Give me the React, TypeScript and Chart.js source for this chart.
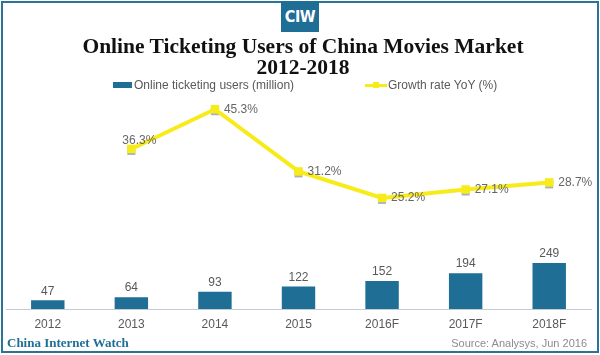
import React, { useEffect, useRef } from 'react';
import { Chart, registerables } from 'chart.js';

Chart.register(...registerables);

// ---- data ----
const categories = ['2012', '2013', '2014', '2015', '2016F', '2017F', '2018F'];
const users = [47, 64, 93, 122, 152, 194, 249];
const growth = [null, 36.3, 45.3, 31.2, 25.2, 27.1, 28.7];
const usersLabel = 'Online ticketing users (million)';
const growthLabel = 'Growth rate YoY (%)';
const titleLines = ['Online Ticketing Users of China Movies Market', '2012-2018'];
const sourceText = 'Source: Analysys, Jun 2016';
const brandText = 'China Internet Watch';
const logoText = 'CIW';

const BLUE = '#1F6E96';
const FRAME = '#2A7399';
const YELLOW = '#F8EB1A';
const SANS = '"Liberation Sans", Arial, sans-serif';
const SERIF = '"Liberation Serif", "Times New Roman", serif';

const valueLabels = {
  id: 'valueLabels',
  beforeDatasetDraw(chart: any, args: any) {
    const ds = chart.data.datasets[args.index];
    if (ds.type !== 'line') return;
    const ctx = chart.ctx;
    ctx.save();
    ctx.fillStyle = '#A8B2BB';
    args.meta.data.forEach((pt: any, i: number) => {
      if (ds.data[i] == null) return;
      ctx.fillRect(pt.x - 4, pt.y - 2, 8, 8);
    });
    ctx.restore();
  },
  afterDatasetsDraw(chart: any) {
    const ctx = chart.ctx;
    ctx.save();
    ctx.font = '12px ' + SANS;
    chart.data.datasets.forEach((ds: any, di: number) => {
      const meta = chart.getDatasetMeta(di);
      if (ds.type === 'bar') {
        ctx.fillStyle = '#595959';
        ctx.textAlign = 'center';
        ctx.textBaseline = 'bottom';
        meta.data.forEach((el: any, i: number) => {
          ctx.fillText(String(ds.data[i]), el.x, el.y - 3);
        });
      } else {
        let first = true;
        ctx.fillStyle = '#666666';
        ctx.textBaseline = 'middle';
        meta.data.forEach((el: any, i: number) => {
          const v = ds.data[i];
          if (v == null) return;
          const text = v.toFixed(1) + '%';
          if (first) {
            ctx.textAlign = 'center';
            ctx.fillText(text, el.x + 8, el.y - 8);
            first = false;
          } else {
            ctx.textAlign = 'left';
            ctx.fillText(text, el.x + 9, el.y);
          }
        });
      }
    });
    ctx.restore();
  },
};

export default function App() {
  const canvasRef = useRef<HTMLCanvasElement | null>(null);

  useEffect(() => {
    document.body.style.margin = '0';
    const canvas = canvasRef.current;
    if (!canvas) return;
    const chart = new Chart(canvas, {
      type: 'bar',
      data: {
        labels: categories,
        datasets: [
          {
            type: 'line',
            label: growthLabel,
            data: growth,
            yAxisID: 'y2',
            borderColor: YELLOW,
            backgroundColor: YELLOW,
            borderWidth: 4,
            pointStyle: 'rect',
            pointRadius: 6,
            pointBorderWidth: 0,
            pointBackgroundColor: YELLOW,
            tension: 0,
            order: 0,
          } as any,
          {
            type: 'bar',
            label: usersLabel,
            data: users,
            yAxisID: 'y',
            backgroundColor: BLUE,
            barPercentage: 0.4,
            categoryPercentage: 1,
            order: 1,
          } as any,
        ],
      },
      options: {
        responsive: false,
        maintainAspectRatio: false,
        animation: false,
        devicePixelRatio: 1,
        layout: { padding: { top: 100, left: 3, right: 9, bottom: 0 } },
        plugins: {
          legend: { display: false },
          tooltip: { enabled: false },
          title: { display: false },
        },
        scales: {
          x: {
            grid: { display: false, drawTicks: false },
            border: { display: true, color: '#C3CCD4', width: 1 },
            ticks: {
              color: '#595959',
              font: { family: SANS, size: 12 },
              padding: 8,
              maxRotation: 0,
              autoSkip: false,
            },
            afterFit: (s: any) => {
              s.height = 46;
            },
          },
          y: { display: false, min: 0, max: 1131 },
          y2: { display: false, min: 0, max: 47.4, position: 'right' },
        },
      } as any,
      plugins: [valueLabels as any],
    });
    return () => chart.destroy();
  }, []);

  return (
    <div style={{ position: 'relative', width: 600, height: 355, background: '#fff', overflow: 'hidden' }}>
      <canvas ref={canvasRef} width={600} height={355} style={{ display: 'block', position: 'absolute', left: 0, top: 0 }} />
      <div
        style={{
          position: 'absolute', left: 1, top: 1, width: 598, height: 352,
          border: `2px solid ${FRAME}`, boxSizing: 'border-box', pointerEvents: 'none',
        }}
      />
      <div
        style={{
          position: 'absolute', left: 281, top: 1, width: 38, height: 31, background: BLUE,
          color: '#fff', fontFamily: '"DejaVu Sans Condensed", "DejaVu Sans", sans-serif', fontWeight: 'bold',
          fontSize: 16, lineHeight: '31px', textAlign: 'center', letterSpacing: -0.5,
        }}
      >
        {logoText}
      </div>
      <div
        style={{
          position: 'absolute', left: 0, top: 36, width: 606, textAlign: 'center',
          fontFamily: SERIF, fontWeight: 'bold', fontSize: 21.5, lineHeight: '21px', color: '#111',
        }}
      >
        {titleLines.map((t) => (
          <div key={t}>{t}</div>
        ))}
      </div>
      {/* legend */}
      <div style={{ position: 'absolute', left: 113, top: 82, width: 19, height: 6, background: BLUE }} />
      <div
        style={{
          position: 'absolute', left: 134, top: 78, fontFamily: SANS, fontSize: 12,
          lineHeight: '14px', color: '#595959', whiteSpace: 'nowrap',
        }}
      >
        {usersLabel}
      </div>
      <div style={{ position: 'absolute', left: 365, top: 84, width: 22, height: 3, background: YELLOW }} />
      <div style={{ position: 'absolute', left: 373, top: 82, width: 6, height: 6, background: YELLOW }} />
      <div
        style={{
          position: 'absolute', left: 388, top: 78, fontFamily: SANS, fontSize: 12,
          lineHeight: '14px', color: '#595959', whiteSpace: 'nowrap',
        }}
      >
        {growthLabel}
      </div>
      {/* footer */}
      <div
        style={{
          position: 'absolute', left: 7, top: 335, fontFamily: SERIF, fontWeight: 'bold',
          fontSize: 13, lineHeight: '16px', color: BLUE, whiteSpace: 'nowrap',
        }}
      >
        {brandText}
      </div>
      <div
        style={{
          position: 'absolute', right: 13, top: 336, fontFamily: SANS, fontSize: 11,
          lineHeight: '14px', color: '#8C8C8C', whiteSpace: 'nowrap',
        }}
      >
        {sourceText}
      </div>
    </div>
  );
}
